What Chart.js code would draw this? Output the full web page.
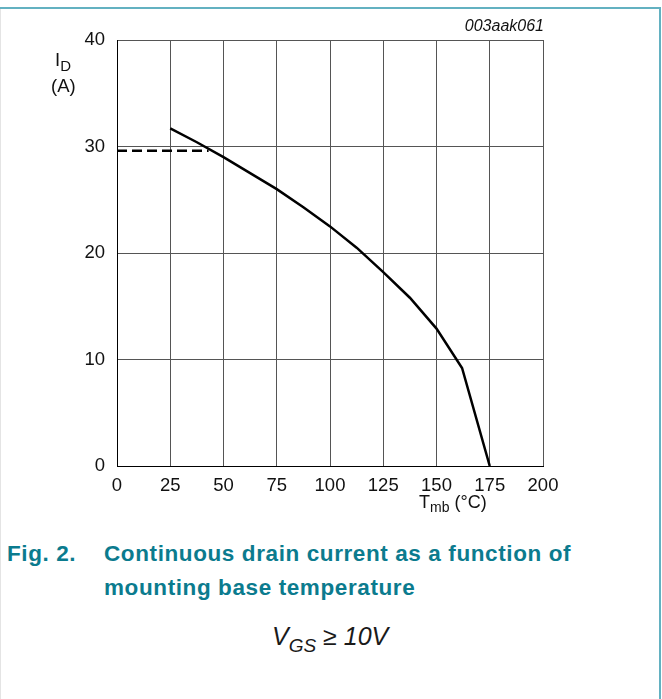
<!DOCTYPE html>
<html>
<head>
<meta charset="utf-8">
<script src="https://cdn.jsdelivr.net/npm/chart.js@4"></script>
<style>
    html, body {
        margin: 0;
        padding: 0;
        background: #ffffff;
    }
    #frame {
        position: relative;
        width: 662px;
        height: 699px;
        overflow: hidden;
        font-family: 'Liberation Sans', Arial, sans-serif;
    }
    #frame .border-top {
        position: absolute;
        left: 0; top: 7px;
        width: 661px; height: 2px;
        background: #63b1c1;
    }
    #frame .border-right {
        position: absolute;
        left: 659px; top: 7px;
        width: 2px; height: 692px;
        background: #63b1c1;
    }
    #frame .border-left {
        position: absolute;
        left: 0; top: 9px;
        width: 1px; height: 690px;
        background: #e4e4e4;
    }
    #chartBox {
        position: absolute;
        left: 0; top: 0;
        width: 662px; height: 520px;
    }
    .caption {
        position: absolute;
        color: #0b7b8e;
        font-weight: bold;
        font-size: 22.5px;
        letter-spacing: 0.6px;
        line-height: 34px;
        white-space: nowrap;
    }
    .formula {
        position: absolute;
        left: 272px; top: 622px;
        font-size: 25px;
        line-height: 1.15;
        color: #1a1a1a;
        white-space: nowrap;
    }
    .formula sub {
        font-size: 19px;
        vertical-align: -7px;
        line-height: 0;
    }
</style>
</head>
<body>
<div id="frame">
    <div class="border-top"></div>
    <div class="border-right"></div>
    <div class="border-left"></div>
    <div id="chartBox"><canvas id="chart" width="662" height="520"></canvas></div>
    <div class="caption" style="left:7px; top:537px;">Fig. 2.</div>
    <div class="caption" style="left:104px; top:537px;">Continuous drain current as a function of<br>mounting base temperature</div>
    <div class="formula"><i>V</i><sub><i>GS</i></sub> ≥ <i>10V</i></div>
</div>
<script>
// ============================================================================
// Data
// ============================================================================

const xTicks = [0, 25, 50, 75, 100, 125, 150, 175, 200];
const yTicks = [0, 10, 20, 30, 40];

// Derating curve: T_mb (°C) vs I_D (A)
const tempValues = [25, 37.5, 50, 62.5, 75, 87.5, 100, 112.5, 125, 137.5, 150, 162, 175];
const currentValues = [31.7, 30.4, 29.0, 27.5, 26.0, 24.3, 22.5, 20.5, 18.2, 15.8, 12.9, 9.2, 0];

// Package limit (dashed)
const limitTemps = [0, 43];
const limitCurrent = [29.6, 29.6];

const figureCode = '003aak061';

// ============================================================================
// Helpers
// ============================================================================

const FONT = "'Liberation Sans', Arial, sans-serif";

/**
 * Zip two arrays into {x, y} points
 * @param {Array} xs - x values
 * @param {Array} ys - y values
 * @returns {Array} points
 */
function toPoints(xs, ys) {
    return xs.map((x, i) => ({ x, y: ys[i] }));
}

/**
 * Draw text with a subscript part, starting at x
 */
function drawSubText(ctx, x, y, main, sub, rest, size) {
    ctx.font = size + 'px ' + FONT;
    ctx.fillText(main, x, y);
    x += ctx.measureText(main).width;
    ctx.font = Math.round(size * 0.8) + 'px ' + FONT;
    ctx.fillText(sub, x, y + size * 0.3);
    x += ctx.measureText(sub).width;
    if (rest) {
        ctx.font = size + 'px ' + FONT;
        ctx.fillText(rest, x, y);
    }
}

// Axis titles and figure code, drawn on top of the chart
const labelsPlugin = {
    id: 'labels',
    afterDraw(chart) {
        const ctx = chart.ctx;
        ctx.save();
        ctx.fillStyle = '#111111';
        ctx.textBaseline = 'middle';
        ctx.textAlign = 'left';

        drawSubText(ctx, 55, 61, 'I', 'D', '', 18.5);
        ctx.font = '18.5px ' + FONT;
        ctx.fillText('(A)', 51, 87);

        drawSubText(ctx, 419, 503, 'T', 'mb', ' (°C)', 18);

        ctx.font = 'italic 16px ' + FONT;
        ctx.textAlign = 'right';
        ctx.fillText(figureCode, 544, 27);
        ctx.restore();
    }
};

// ============================================================================
// Chart
// ============================================================================

const tickFont = { family: FONT, size: 18.5 };

new Chart(document.getElementById('chart'), {
    type: 'line',
    data: {
        datasets: [
            {
                data: toPoints(tempValues, currentValues),
                borderColor: '#000000',
                borderWidth: 2.5,
                pointRadius: 0,
                tension: 0,
                fill: false
            },
            {
                data: toPoints(limitTemps, limitCurrent),
                borderColor: '#000000',
                borderWidth: 2.5,
                borderDash: [10, 5],
                pointRadius: 0,
                tension: 0,
                fill: false
            }
        ]
    },
    options: {
        responsive: false,
        animation: false,
        events: [],
        layout: {
            padding: { left: 0, top: 40, right: 119, bottom: 0 }
        },
        plugins: {
            legend: { display: false },
            tooltip: { enabled: false }
        },
        scales: {
            x: {
                type: 'linear',
                min: 0,
                max: 200,
                afterBuildTicks: (scale) => { scale.ticks = xTicks.map(v => ({ value: v })); },
                afterFit: (scale) => { scale.height = 54; },
                grid: { color: '#555555', lineWidth: 1, drawTicks: false },
                border: { color: '#000000', width: 1 },
                ticks: { color: '#111111', font: tickFont, padding: 9, maxRotation: 0 }
            },
            y: {
                type: 'linear',
                min: 0,
                max: 40,
                afterBuildTicks: (scale) => { scale.ticks = yTicks.map(v => ({ value: v })); },
                afterFit: (scale) => { scale.width = 117; },
                grid: { color: '#555555', lineWidth: 1, drawTicks: false },
                border: { color: '#000000', width: 1 },
                ticks: { color: '#111111', font: tickFont, padding: 12 }
            }
        }
    },
    plugins: [labelsPlugin]
});
</script>
</body>
</html>
